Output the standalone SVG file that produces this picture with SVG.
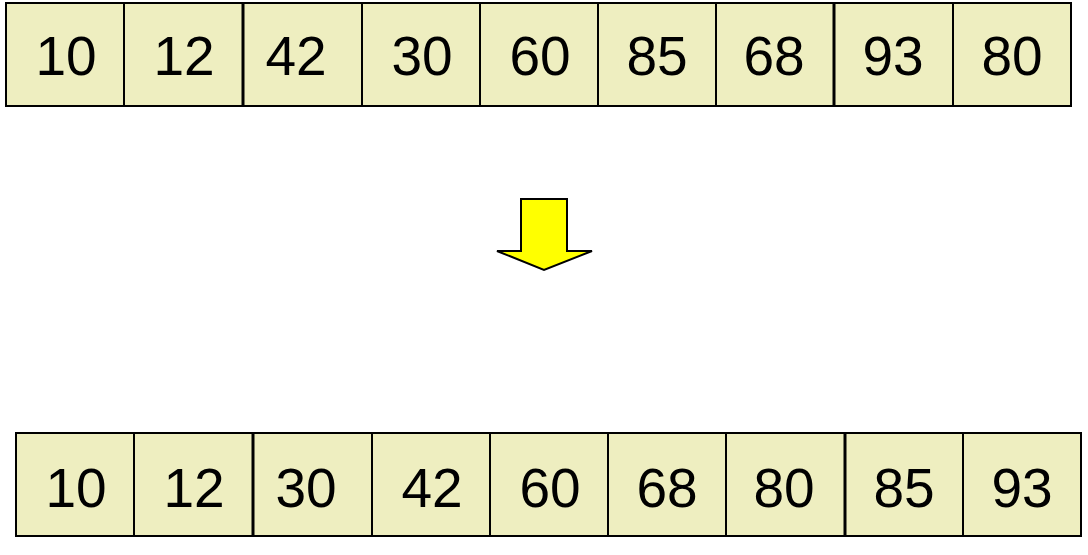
<svg xmlns="http://www.w3.org/2000/svg" width="1088" height="555" viewBox="0 0 1088 555">
<style>
.c{fill:#EEEEC0;stroke:#000;stroke-width:2}
.t{font-family:"Liberation Sans",Arial,sans-serif;font-size:55px;fill:#000;text-anchor:middle}
.k{stroke:#000;stroke-width:3}
</style>
<rect width="1088" height="555" fill="#fff"/>
<g id="top">
<g id="t1"><rect class="c" x="6" y="3" width="118" height="103"/><text class="t" x="66" y="75">10</text></g>
<g id="t2"><rect class="c" x="124" y="3" width="119" height="103"/><text class="t" x="184" y="75">12</text></g>
<g id="t3"><rect class="c" x="243" y="3" width="119" height="103"/><text class="t" x="296" y="75">42</text></g>
<g id="t4"><rect class="c" x="362" y="3" width="118" height="103"/><text class="t" x="422" y="75">30</text></g>
<g id="t5"><rect class="c" x="480" y="3" width="118" height="103"/><text class="t" x="540" y="75">60</text></g>
<g id="t6"><rect class="c" x="598" y="3" width="118" height="103"/><text class="t" x="657" y="75">85</text></g>
<g id="t7"><rect class="c" x="716" y="3" width="118" height="103"/><text class="t" x="774" y="75">68</text></g>
<g id="t8"><rect class="c" x="834" y="3" width="119" height="103"/><text class="t" x="893" y="75">93</text></g>
<g id="t9"><rect class="c" x="953" y="3" width="118" height="103"/><text class="t" x="1012" y="75">80</text></g>
<line class="k" x1="243" y1="2" x2="243" y2="107"/>
<line class="k" x1="834" y1="2" x2="834" y2="107"/>
</g>
<g id="arrow">
<polygon points="521,199 567,199 567,251 592,251 544,270 497,251 521,251" fill="#FFFF00" stroke="#000" stroke-width="2" stroke-linejoin="miter"/>
</g>
<g id="bottom">
<g id="b1"><rect class="c" x="16" y="433" width="118" height="103"/><text class="t" x="76" y="507">10</text></g>
<g id="b2"><rect class="c" x="134" y="433" width="119" height="103"/><text class="t" x="194" y="507">12</text></g>
<g id="b3"><rect class="c" x="253" y="433" width="119" height="103"/><text class="t" x="306" y="507">30</text></g>
<g id="b4"><rect class="c" x="372" y="433" width="118" height="103"/><text class="t" x="432" y="507">42</text></g>
<g id="b5"><rect class="c" x="490" y="433" width="118" height="103"/><text class="t" x="550" y="507">60</text></g>
<g id="b6"><rect class="c" x="608" y="433" width="118" height="103"/><text class="t" x="667" y="507">68</text></g>
<g id="b7"><rect class="c" x="726" y="433" width="119" height="103"/><text class="t" x="784" y="507">80</text></g>
<g id="b8"><rect class="c" x="845" y="433" width="118" height="103"/><text class="t" x="904" y="507">85</text></g>
<g id="b9"><rect class="c" x="963" y="433" width="118" height="103"/><text class="t" x="1022" y="507">93</text></g>
<line class="k" x1="253" y1="432" x2="253" y2="537"/>
<line class="k" x1="845" y1="432" x2="845" y2="537"/>
</g>
</svg>
